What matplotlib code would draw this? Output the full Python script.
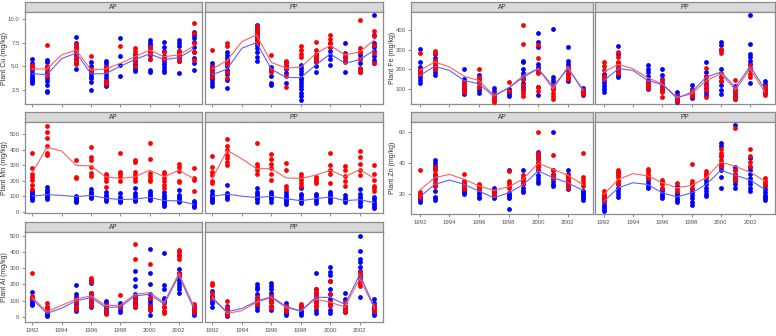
import matplotlib
matplotlib.use("Agg")
import matplotlib.pyplot as plt
import numpy as np

plt.rcParams['font.family'] = ['Liberation Sans', 'DejaVu Sans']

# sampling years for the points (no 1994 sampling) and for the fitted lines
years = [1992, 1993, 1995, 1996, 1997, 1998, 1999, 2000, 2001, 2002, 2003]
line_years = [1992, 1993, 1994, 1995, 1996, 1997, 1998, 1999, 2000, 2001, 2002, 2003]
xticks = [1992, 1994, 1996, 1998, 2000, 2002]

# ---- Cu ----
cu_ap_red = [[5.1, 4.8], [7.2, 5.0, 4.6, 4.0], [7.3, 6.9, 6.5, 6.0, 5.5, 5.2], [6.1, 4.7, 4.6],
             [4.9, 4.6, 4.5, 3.4, 3.2, 3.1], [7.1], [6.9, 6.6, 6.3, 5.9, 5.6, 5.0], [7.0, 6.6, 6.3, 5.8],
             [6.5, 6.0, 5.8], [6.6, 6.4, 6.0, 5.5], [9.6, 8.5, 7.4, 6.5, 5.7]]
cu_ap_blue = [[5.8, 5.3, 4.9, 4.6, 4.3, 4.0, 3.8, 3.6, 3.4, 3.2], [5.7, 5.4, 4.9, 4.3, 3.8, 3.4, 3.0, 2.4, 2.3],
              [8.1, 7.4, 7.0, 6.6, 6.2, 5.8, 5.3, 4.7], [5.4, 5.0, 4.6, 4.3, 4.0, 3.7, 3.3, 2.5],
              [5.6, 5.3, 5.0, 4.7, 4.4, 4.1, 3.8, 3.4, 3.0, 2.9], [8.0, 6.1, 5.1, 4.0],
              [6.3, 6.0, 5.7, 5.5, 5.2, 5.0, 4.7, 4.5], [7.8, 7.5, 7.2, 6.9, 6.5, 6.2, 5.8, 4.6, 4.4],
              [7.6, 7.0, 6.6, 6.1, 5.8, 5.5, 5.2, 4.9, 4.6, 4.4], [7.8, 7.4, 7.1, 6.6, 6.2, 5.9, 5.6, 4.3],
              [8.6, 8.3, 8.0, 7.6, 7.0, 6.5, 5.9, 5.3, 4.6]]
cu_ap_red_line = [4.7, 4.7, 6.2, 6.7, 4.6, 4.7, 5.3, 6.0, 6.7, 6.0, 6.2, 7.1]
cu_ap_blue_line = [4.2, 4.1, 5.8, 6.4, 4.2, 4.2, 5.0, 5.7, 6.3, 5.7, 5.9, 6.8]

cu_pp_red = [[6.7, 4.9, 4.4, 3.9], [7.4, 7.1, 5.6, 5.2, 4.4, 3.8], [9.2, 8.9, 8.6, 8.3, 7.9, 7.5],
             [6.2, 4.6, 4.4], [5.6, 5.2, 4.8, 4.0, 2.8], [7.1, 6.7, 6.3, 6.0], [7.6, 6.7, 6.2, 5.9, 5.5],
             [8.3, 7.9, 7.5, 7.0], [6.3, 5.9, 5.4], [9.9, 6.9, 6.5, 5.8, 4.8, 4.4], [8.7, 8.2, 7.2, 6.4, 5.3]]
cu_pp_blue = [[5.3, 5.0, 4.7, 4.4, 4.1, 3.8, 3.5, 3.2, 2.9], [6.5, 6.2, 5.9, 5.6, 5.3, 5.0, 4.6, 4.2, 3.5, 2.7],
              [9.4, 9.2, 9.0, 8.7, 8.4, 8.1, 7.8, 7.5, 7.2, 6.9, 6.5, 6.0, 5.5], [4.9, 4.6, 4.0, 3.2, 3.0],
              [5.4, 5.0, 4.7, 4.3, 3.2], [5.1, 4.8, 4.5, 4.2, 3.8, 3.5, 3.2, 2.9, 2.6, 2.2, 1.8, 1.4],
              [6.3, 6.0, 5.7, 5.4, 5.0, 4.4], [7.4, 7.0, 6.6, 6.2, 5.8, 5.1], [7.4, 6.4, 6.0, 5.6, 4.4],
              [6.5, 6.2, 5.8, 5.3, 4.7, 4.4], [10.4, 8.3, 7.5, 7.0, 6.6, 6.1, 5.7, 5.3]]
cu_pp_red_line = [4.7, 5.6, 7.6, 8.3, 5.4, 4.8, 4.9, 6.3, 7.2, 6.2, 6.5, 7.8]
cu_pp_blue_line = [4.1, 4.7, 6.9, 7.5, 4.7, 3.8, 3.8, 5.1, 6.3, 5.3, 5.7, 6.7]

# ---- Mn ----
mn_ap_red = [[378, 280, 240, 225, 205, 175, 145], [552, 515, 475, 425, 380, 368], [330, 225, 215],
             [415, 355, 335, 285, 250, 230], [245, 235, 215, 195, 160], [378, 255, 240, 222, 200],
             [335, 320, 255, 238, 215, 195], [445, 338, 250, 230, 210, 195], [258, 240, 220, 200, 175, 150],
             [310, 290, 260, 200, 190], [280, 215, 205, 135]]
mn_ap_blue = [[135, 120, 110, 100, 92, 85, 78], [160, 140, 125, 112, 100, 92, 85], [100, 92, 85, 78, 70, 65],
              [145, 130, 118, 105, 95, 90], [125, 110, 98, 88, 80, 72], [118, 95, 82, 72, 62],
              [150, 120, 100, 88, 78, 68], [135, 120, 105, 95, 85, 75], [125, 110, 95, 80, 70, 60, 50, 40],
              [140, 105, 92, 80, 70, 60], [72, 60, 50, 40, 30]]
mn_ap_red_line = [250, 415, 390, 298, 294, 225, 214, 225, 267, 225, 267, 214]
mn_ap_blue_line = [100, 110, 105, 97, 105, 88, 78, 82, 92, 72, 70, 48]

mn_pp_red = [[360, 290, 258, 235, 200, 183], [470, 420, 395, 365, 345, 320, 300], [440, 310, 290, 268, 240],
             [372, 340, 310, 280, 240, 205], [315, 268, 165, 145], [245, 225, 205, 185, 165],
             [225, 210, 195, 182], [378, 300, 268, 240, 185], [295, 268, 228, 200, 165],
             [388, 350, 310, 270, 235], [298, 245, 205, 165, 150, 135]]
mn_pp_blue = [[135, 115, 100, 90, 80, 70, 60], [170, 120, 105, 95, 85], [150, 130, 115, 100, 90, 80, 65],
              [130, 115, 100, 90, 80, 65], [130, 110, 95, 85, 75, 60, 48], [150, 115, 100, 85, 70, 55],
              [115, 100, 85, 70, 55], [130, 115, 100, 90, 75, 65], [105, 90, 75, 60],
              [148, 112, 98, 85, 70, 55, 38], [95, 80, 65, 50, 35, 25]]
mn_pp_red_line = [214, 395, 340, 277, 277, 218, 214, 235, 267, 225, 271, 214]
mn_pp_blue_line = [99, 113, 100, 92, 99, 84, 71, 84, 95, 71, 78, 57]

# ---- Al ----
al_ap_red = [[270, 130, 120], [88, 62, 45], [112, 90, 62, 48], [238, 218, 150, 120, 95, 70], [72, 45, 18],
             [135, 65], [450, 355, 125, 100, 75, 65], [325, 120, 70, 45], [85, 60, 40, 25],
             [410, 400, 375, 355, 270, 250], [82, 62, 45, 30]]
al_ap_blue = [[152, 120, 110, 100, 90, 80, 72], [60, 45, 35, 25, 15, 8], [198, 140, 125, 110, 95, 80, 65, 50, 38],
              [225, 210, 150, 140, 125, 110, 90, 75, 62], [100, 85, 70, 55, 40, 28], [88, 75, 60, 45, 30],
              [280, 235, 190, 140, 125, 110, 95, 80, 60], [420, 272, 200, 140, 120, 100, 82, 65, 45, 10],
              [392, 195, 170, 120, 105, 90, 60, 40], [378, 295, 268, 250, 230, 210, 190, 170, 150],
              [70, 55, 40, 25, 15]]
al_ap_red_line = [121, 33, 72, 111, 130, 72, 72, 140, 150, 91, 267, 72]
al_ap_blue_line = [110, 22, 55, 100, 120, 60, 62, 130, 140, 80, 255, 55]

al_pp_red = [[210, 198, 150, 120], [100, 60, 40, 20, 10], [125, 110, 95, 80], [130, 110, 90, 70, 55],
             [70, 55, 40], [78, 60], [170, 155, 130, 100, 75, 60], [222, 140, 90, 70], [90, 70, 50, 30],
             [278, 255, 230, 210, 190], [75, 55, 35]]
al_pp_blue = [[160, 130, 115, 100, 85, 62], [70, 50, 30, 15, 5], [200, 185, 170, 140, 120, 100, 80, 60, 45],
              [210, 190, 170, 150, 130, 110, 90, 70, 45], [85, 70, 55, 40, 25, 15], [68, 55, 40, 25, 15],
              [272, 170, 150, 130, 110, 90, 70, 45, 25], [305, 278, 257, 220, 170, 140, 110, 80, 45, 25],
              [145, 110, 90, 70, 50, 30], [495, 405, 355, 335, 305, 285, 260, 240, 210, 125],
              [112, 85, 65, 45, 25, 15]]
al_pp_red_line = [126, 23, 39, 91, 121, 58, 37, 111, 91, 62, 237, 53]
al_pp_blue_line = [111, 33, 53, 97, 125, 66, 37, 121, 121, 78, 261, 62]

# ---- Fe ----
fe_ap_red = [[283, 195, 185, 175], [295, 282, 250, 230, 215, 200], [135, 120, 100, 85], [203, 160, 145, 130, 110],
             [75, 60, 45, 35], [135, 90], [425, 328, 150, 120, 95, 80, 68], [325, 258, 200, 180, 110, 90],
             [120, 100, 80, 65, 52], [210, 195, 180, 165, 150], [95, 85, 75]]
fe_ap_blue = [[305, 240, 215, 195, 175, 160, 145, 130], [280, 260, 240, 220, 200, 185, 170],
              [203, 150, 135, 120, 105, 90, 75], [170, 150, 130, 110, 95, 80], [105, 90, 75, 60, 45],
              [100, 85, 75, 65], [245, 240, 200, 180, 165, 150, 130, 110, 95],
              [387, 340, 315, 230, 215, 200, 185, 110, 70], [403, 160, 145, 130, 115, 100],
              [315, 245, 230, 215, 195, 175, 155, 140], [105, 90, 80, 72]]
fe_ap_red_line = [195, 238, 213, 165, 144, 68, 107, 170, 204, 102, 213, 93]
fe_ap_blue_line = [170, 216, 195, 144, 127, 64, 107, 161, 204, 114, 204, 102]

fe_pp_red = [[240, 220, 195, 165, 150], [290, 265, 240, 220, 200, 180], [135, 120, 105], [145, 120, 100, 85, 60],
             [68, 50, 40], [95, 75, 65], [207, 165, 140, 115, 95, 60], [305, 282, 180, 160, 140],
             [145, 100, 80, 60, 48], [225, 210, 195, 175, 160], [115, 100, 85, 70]]
fe_pp_blue = [[175, 160, 145, 130, 115, 100, 85], [320, 280, 235, 210, 190, 170, 160],
              [222, 205, 185, 165, 145, 130, 115, 100], [205, 170, 150, 130, 110, 95], [85, 70, 55, 45, 35],
              [120, 100, 85, 70, 55], [240, 185, 165, 145, 125, 105, 85, 70],
              [340, 325, 300, 200, 160, 140, 120, 95, 78], [115, 95, 80, 65, 50],
              [478, 328, 280, 265, 245, 230, 200, 130], [140, 125, 110, 95, 80]]
fe_pp_red_line = [187, 226, 204, 158, 127, 59, 76, 144, 178, 97, 204, 85]
fe_pp_blue_line = [144, 204, 195, 144, 124, 54, 85, 161, 187, 110, 216, 102]

# ---- Zn ----
zn_ap_red = [[35.3, 21, 20, 19, 18], [37, 35, 33, 29, 27, 25], [32.5, 28, 26, 25, 23], [26.5, 25, 24, 23],
             [21.5, 20, 19], [34.5, 28, 27, 25, 24], [32, 30, 28, 26], [60, 46, 44, 42, 40, 38, 36],
             [45, 35, 33, 30], [32, 30, 28, 26, 24], [46, 31, 29, 27, 25]]
zn_ap_blue = [[18, 17, 16, 15], [42, 40, 38, 36, 32, 30, 25, 22, 18, 17, 16], [28, 26, 24, 23, 22, 21, 20],
              [25, 23, 21, 20, 18, 17], [24, 22, 21, 20, 19, 18, 17], [35, 20.5, 19.5, 18.5, 17.5, 10.5],
              [35.5, 30, 28, 26, 24, 22, 21], [47, 45, 43, 40, 38, 35, 32, 30, 28, 27],
              [60, 35, 32, 30, 28, 26, 25], [35, 33, 31, 29, 27, 25, 23], [22, 21, 20, 19, 18, 17, 16]]
zn_ap_red_line = [22.4, 30.4, 32.5, 29.3, 25.0, 22.2, 24.5, 29.7, 39.7, 35.8, 31.9, 26.0]
zn_ap_blue_line = [18.0, 26.0, 28.9, 26.0, 21.7, 17.4, 20.6, 26.0, 34.7, 30.4, 27.1, 22.2]

zn_pp_red = [[21.5, 20, 18.5, 17, 15.5], [35, 33.5, 32, 30.5, 28, 26], [36, 34.5, 33, 31.5, 30],
             [29, 27.5, 26, 24], [27, 23, 22], [39, 28, 26, 24], [34.7, 33, 31], [49, 46, 44, 42, 40, 38],
             [62.5, 35, 33, 31, 29], [49, 44.5, 40.5, 38], [30, 28.5, 27, 25.5]]
zn_pp_blue = [[18.5, 16.5, 14.5, 13, 11.5, 10, 9], [34, 28, 26, 24, 22, 20, 18], [31, 29, 27, 25, 24],
              [23, 21.5, 20, 18.5, 17], [25, 20.5, 19, 17.5, 16, 15], [26, 23, 21, 19, 17, 15, 13],
              [33, 30, 28, 26, 24, 22, 20, 18.5], [52.5, 51, 44, 39, 37, 35.5, 30.5, 24],
              [64, 37, 35, 32, 30, 28, 26, 24], [43, 37, 35, 33, 30, 28, 26, 24, 22],
              [25, 23, 21, 19.5, 18, 17, 16]]
zn_pp_red_line = [19.6, 29.3, 33.0, 31.5, 27.1, 23.9, 25.4, 30.4, 40.5, 37.5, 34.0, 28.2]
zn_pp_blue_line = [15.2, 23.9, 27.1, 26.0, 20.6, 18.0, 20.6, 26.0, 35.1, 31.9, 28.9, 22.8]

W, H = 776, 336
fig = plt.figure(figsize=(W / 100, H / 100), dpi=100)

FRAME = '#8c8c8c'
TXT = '#555555'


def rect(x0, x1, ytop, ybot):
    return [x0 / W, 1 - ybot / H, (x1 - x0) / W, (ybot - ytop) / H]


def panel(x0, x1, ytop, ybot, title, red, blue, red_line, blue_line, ylim, yticks, ylabels,
          xlim, show_y, show_xlab):
    # strip on top
    st = fig.add_axes(rect(x0, x1, ytop - 10.6, ytop))
    st.set_facecolor('#d9d9d9')
    st.set_xticks([])
    st.set_yticks([])
    for s in st.spines.values():
        s.set_color(FRAME)
        s.set_linewidth(0.9)
    st.text(0.5, 0.45, title, ha='center', va='center', fontsize=4.8, color='#333333',
            transform=st.transAxes)

    ax = fig.add_axes(rect(x0, x1, ytop, ybot))
    for i, yr in enumerate(years):
        ax.scatter([yr] * len(blue[i]), blue[i], s=12, color='#0000ff', linewidths=0, zorder=3)
        ax.scatter([yr] * len(red[i]), red[i], s=12, color='#ff0000', linewidths=0, zorder=3)
    ax.plot(line_years, red_line, color='#ff6060', lw=0.8, zorder=4)
    ax.plot(line_years, blue_line, color='#6060ff', lw=0.8, zorder=4)
    ax.set_xlim(*xlim)
    ax.set_ylim(*ylim)
    ax.set_xticks(xticks)
    ax.set_xticklabels([str(t) for t in xticks] if show_xlab else [])
    if show_y:
        ax.set_yticks(yticks)
        ax.set_yticklabels(ylabels)
    else:
        ax.set_yticks([])
    ax.tick_params(colors=FRAME, labelcolor=TXT, labelsize=4.3, length=2.5, width=0.7, pad=1.5)
    for s in ax.spines.values():
        s.set_color(FRAME)
        s.set_linewidth(0.9)
    return ax


L_cols = [(25, 202.3), (205, 383.3)]
R_cols = [(411, 593), (595, 775)]
L_rows = [(12.3, 104), (122.3, 213), (232.3, 322)]
R_rows = [(12.3, 104), (122.3, 214)]
xl_L = (1991.5, 2003.6)
xl_R = (1991.4, 2003.7)

left_sets = [
    ('Plant Cu (mg/kg)', (cu_ap_red, cu_ap_blue, cu_ap_red_line, cu_ap_blue_line),
     (cu_pp_red, cu_pp_blue, cu_pp_red_line, cu_pp_blue_line),
     (1.0, 10.7), [2.5, 5.0, 7.5, 10.0], ['2.5', '5.0', '7.5', '10.0']),
    ('Plant Mn (mg/kg)', (mn_ap_red, mn_ap_blue, mn_ap_red_line, mn_ap_blue_line),
     (mn_pp_red, mn_pp_blue, mn_pp_red_line, mn_pp_blue_line),
     (-8, 575), [0, 100, 200, 300, 400, 500], ['0', '100', '200', '300', '400', '500']),
    ('Plant Al (mg/kg)', (al_ap_red, al_ap_blue, al_ap_red_line, al_ap_blue_line),
     (al_pp_red, al_pp_blue, al_pp_red_line, al_pp_blue_line),
     (-30, 520), [0, 100, 200, 300, 400, 500], ['0', '100', '200', '300', '400', '500']),
]
right_sets = [
    ('Plant Fe (mg/kg)', (fe_ap_red, fe_ap_blue, fe_ap_red_line, fe_ap_blue_line),
     (fe_pp_red, fe_pp_blue, fe_pp_red_line, fe_pp_blue_line),
     (25, 490), [100, 200, 300, 400], ['100', '200', '300', '400']),
    ('Plant Zn (mg/kg)', (zn_ap_red, zn_ap_blue, zn_ap_red_line, zn_ap_blue_line),
     (zn_pp_red, zn_pp_blue, zn_pp_red_line, zn_pp_blue_line),
     (7, 66), [20, 40, 60], ['20', '40', '60']),
]

for r, (lab, ap, pp, yl, yt, ytl) in enumerate(left_sets):
    ytop, ybot = L_rows[r]
    last = r == len(left_sets) - 1
    panel(*L_cols[0], ytop, ybot, 'AP', *ap, yl, yt, ytl, xl_L, True, last)
    panel(*L_cols[1], ytop, ybot, 'PP', *pp, yl, yt, ytl, xl_L, False, last)
    fig.text(5 / W, 1 - (ytop + ybot) / 2 / H, lab, rotation=90, ha='center', va='center',
             fontsize=5, color='#333333')

for r, (lab, ap, pp, yl, yt, ytl) in enumerate(right_sets):
    ytop, ybot = R_rows[r]
    last = r == len(right_sets) - 1
    panel(*R_cols[0], ytop, ybot, 'AP', *ap, yl, yt, ytl, xl_R, True, last)
    panel(*R_cols[1], ytop, ybot, 'PP', *pp, yl, yt, ytl, xl_R, False, last)
    fig.text(392 / W, 1 - (ytop + ybot) / 2 / H, lab, rotation=90, ha='center', va='center',
             fontsize=5, color='#333333')

fig.savefig('out.png', dpi=100)
